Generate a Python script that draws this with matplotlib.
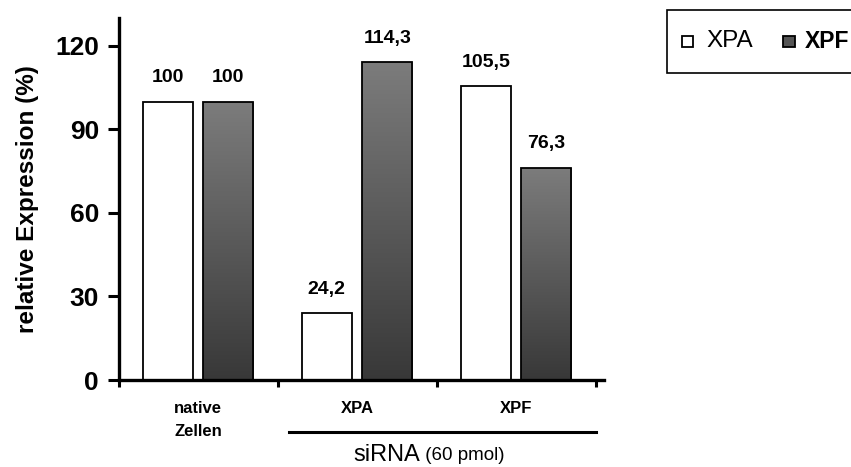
import matplotlib.pyplot as plt
import numpy as np
from matplotlib.colors import LinearSegmentedColormap
from matplotlib.patches import Rectangle

plt.rcParams['font.family'] = ['Liberation Sans', 'DejaVu Sans']

# values (percent of native cells)
groups = ["native\nZellen", "XPA", "XPF"]
xpa = [100, 24.2, 105.5]
xpf = [100, 114.3, 76.3]
yticks = [0, 30, 60, 90, 120]

W, H = 851, 467
fig = plt.figure(figsize=(W/100, H/100), dpi=100)
ax = fig.add_axes([118.5/W, 87/H, 485/W, 362/H])

x = np.arange(len(groups))
w = 0.315
off = 0.19

b1 = ax.bar(x - off, xpa, w, color="white", edgecolor="black", linewidth=1.3, zorder=2)
b2 = ax.bar(x + off, xpf, w, color="none", edgecolor="black", linewidth=1.3, zorder=3)

# grey gradient inside the XPF bars, lighter at the top
grey = LinearSegmentedColormap.from_list("grey", ["#7c7c7c", "#383838"])
grad = np.linspace(0, 1, 256).reshape(-1, 1)
for r in b2:
    x0, y0 = r.get_x(), r.get_y()
    im = ax.imshow(grad, cmap=grey, aspect="auto", zorder=2, origin="upper",
                   extent=[x0, x0 + r.get_width(), y0, y0 + r.get_height()])
    im.set_clip_path(r)

def fmt(v):
    return f"{v:g}".replace(".", ",")

for bars, vals in ((b1, xpa), (b2, xpf)):
    for r, v in zip(bars, vals):
        ax.annotate(fmt(v), (r.get_x() + r.get_width()/2, v), xytext=(0, 17),
                    textcoords="offset points", ha="center", va="center",
                    fontsize=14, fontweight="bold")

ax.set_xlim(-0.5, 2.55)
ax.set_ylim(0, 130)
ax.set_yticks(yticks)
ax.set_yticklabels([str(t) for t in yticks], fontsize=19, fontweight="bold")
ax.set_xticks([-0.5, 0.5, 1.5, 2.5])
ax.set_xticklabels([])
ax.tick_params(axis="y", direction="out", length=8, width=2.2, pad=6)
ax.tick_params(axis="x", direction="out", length=5, width=2.2)
for s in ("top", "right"):
    ax.spines[s].set_visible(False)
for s in ("left", "bottom"):
    ax.spines[s].set_linewidth(2.4)

ax.set_ylabel("relative Expression (%)", fontsize=17.5, fontweight="bold")
ax.yaxis.set_label_coords((39 - 118.5)/485, 0.5)

for xi, g in zip(x, groups):
    ax.text(xi, -7.5, g, ha="center", va="top", fontsize=12, fontweight="bold",
            linespacing=1.7)

# siRNA bracket under the two knockdown groups
ax.plot([0.57, 2.5], [-18.5, -18.5], color="black", lw=2.2, clip_on=False)
fig.text(420/W, 1 - 455/H, "siRNA", ha="right", va="center", fontsize=17)
fig.text(420/W, 1 - 456/H, " (60 pmol)", ha="left", va="center", fontsize=13.5)

# legend box running off the right edge
fig.patches.append(Rectangle((667/W, 1 - 73/H), 0.3, 63/H, transform=fig.transFigure,
                             facecolor="white", edgecolor="black", lw=1.2))
fig.patches.append(Rectangle((682/W, 1 - 47/H), 11/W, 11/H, transform=fig.transFigure,
                             facecolor="white", edgecolor="black", lw=1.3))
fig.patches.append(Rectangle((783/W, 1 - 47/H), 12/W, 11/H, transform=fig.transFigure,
                             facecolor="#555555", edgecolor="black", lw=1.3))
fig.text(706/W, 1 - 41/H, "XPA", ha="left", va="center", fontsize=17.5)
fig.text(805/W, 1 - 41/H, "XPF", ha="left", va="center", fontsize=16.5, fontweight="bold")

fig.savefig("out.png", dpi=100)
